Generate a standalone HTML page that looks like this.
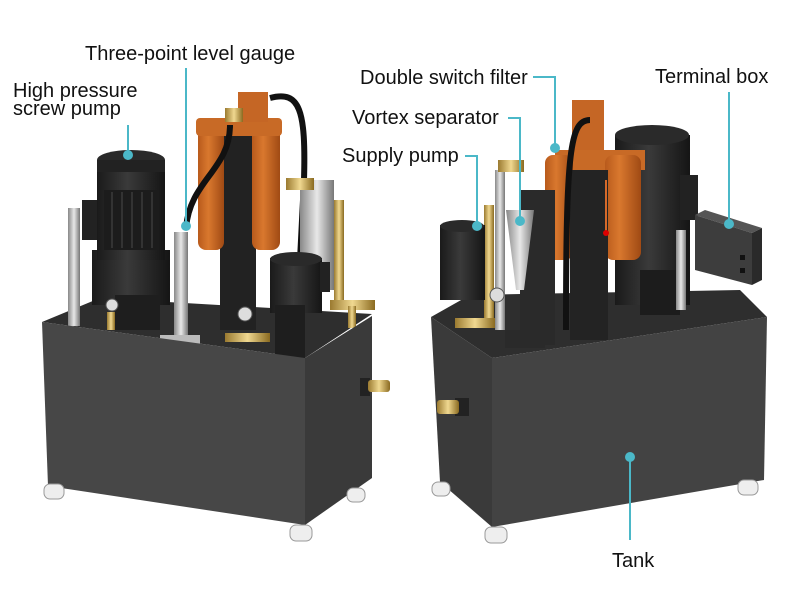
<!DOCTYPE html>
<html><head><meta charset="utf-8"><style>
html,body{margin:0;padding:0;background:#fff;}
svg{display:block;}
text{font-family:"Liberation Sans",sans-serif;font-size:20px;fill:#111;}
</style></head><body>
<svg width="800" height="600" viewBox="0 0 800 600" xmlns="http://www.w3.org/2000/svg">
<defs>
<linearGradient id="blk" x1="0" x2="1"><stop offset="0" stop-color="#1a1a1a"/><stop offset=".45" stop-color="#3a3a3a"/><stop offset="1" stop-color="#151515"/></linearGradient>
<linearGradient id="org" x1="0" x2="1"><stop offset="0" stop-color="#b85a1c"/><stop offset=".4" stop-color="#d9782e"/><stop offset="1" stop-color="#a04a14"/></linearGradient>
<linearGradient id="slv" x1="0" x2="1"><stop offset="0" stop-color="#888"/><stop offset=".5" stop-color="#e8e8e8"/><stop offset="1" stop-color="#777"/></linearGradient>
<linearGradient id="brs" x1="0" x2="1"><stop offset="0" stop-color="#9a7a30"/><stop offset=".5" stop-color="#f0d890"/><stop offset="1" stop-color="#8a6a20"/></linearGradient>
</defs>

<!-- LEFT MACHINE -->
<polygon points="42,322 100,298 372,314 305,358" fill="#2e2e2e"/>
<rect x="68" y="208" width="12" height="118" fill="url(#slv)"/>
<rect x="82" y="200" width="18" height="40" fill="#222"/>
<rect x="92" y="250" width="78" height="55" fill="url(#blk)"/>
<rect x="97" y="165" width="68" height="95" fill="url(#blk)"/>
<rect x="104" y="190" width="54" height="60" fill="#1c1c1c"/>
<g stroke="#333" stroke-width="2"><line x1="112" y1="192" x2="112" y2="248"/><line x1="122" y1="192" x2="122" y2="248"/><line x1="132" y1="192" x2="132" y2="248"/><line x1="142" y1="192" x2="142" y2="248"/><line x1="152" y1="192" x2="152" y2="248"/></g>
<ellipse cx="131" cy="160" rx="34" ry="10" fill="#2a2a2a"/>
<rect x="97" y="160" width="68" height="12" fill="#222"/>
<rect x="115" y="295" width="45" height="35" fill="#1e1e1e"/>
<circle cx="112" cy="305" r="6" fill="#ddd" stroke="#555"/>
<rect x="107" y="312" width="8" height="18" fill="url(#brs)"/>
<rect x="174" y="232" width="14" height="115" fill="url(#slv)"/>
<rect x="160" y="335" width="40" height="12" fill="#bbb"/>
<rect x="220" y="130" width="36" height="200" fill="#222"/>
<rect x="198" y="125" width="26" height="125" rx="8" fill="url(#org)"/>
<rect x="252" y="125" width="28" height="125" rx="8" fill="url(#org)"/>
<rect x="196" y="118" width="86" height="18" rx="4" fill="#c86a26"/>
<rect x="238" y="92" width="30" height="30" fill="#c56625"/>
<rect x="225" y="108" width="18" height="14" fill="url(#brs)"/>
<path d="M270 98 C300 90 306 110 304 180 L300 260" stroke="#111" stroke-width="6" fill="none"/>
<path d="M230 125 C230 170 190 180 186 228" stroke="#111" stroke-width="6" fill="none"/>
<rect x="300" y="180" width="34" height="110" fill="url(#slv)"/>
<rect x="286" y="178" width="28" height="12" fill="url(#brs)"/>
<rect x="270" y="258" width="52" height="55" fill="url(#blk)"/>
<ellipse cx="296" cy="259" rx="26" ry="7" fill="#2a2a2a"/>
<rect x="275" y="305" width="30" height="58" fill="#1e1e1e"/>
<rect x="320" y="262" width="10" height="30" fill="#222"/>
<rect x="334" y="200" width="10" height="110" fill="url(#brs)"/>
<rect x="330" y="300" width="45" height="10" fill="url(#brs)"/>
<rect x="348" y="306" width="8" height="22" fill="url(#brs)"/>
<circle cx="245" cy="314" r="7" fill="#ddd" stroke="#555"/>
<rect x="225" y="333" width="45" height="9" fill="url(#brs)"/>
<polygon points="42,322 305,358 305,525 48,486" fill="#474747"/>
<polygon points="305,358 372,316 372,478 305,525" fill="#3a3a3a"/>
<rect x="360" y="378" width="10" height="18" fill="#222"/>
<rect x="368" y="380" width="22" height="12" rx="3" fill="url(#brs)"/>
<g fill="#eee" stroke="#999"><rect x="44" y="484" width="20" height="15" rx="6"/><rect x="290" y="525" width="22" height="16" rx="6"/><rect x="347" y="488" width="18" height="14" rx="6"/></g>

<!-- RIGHT MACHINE -->
<polygon points="431,317 470,295 740,290 767,317 492,358" fill="#2e2e2e"/>
<rect x="615" y="135" width="75" height="170" fill="url(#blk)"/>
<ellipse cx="652" cy="135" rx="37" ry="10" fill="#2a2a2a"/>
<rect x="680" y="175" width="18" height="45" fill="#222"/>
<rect x="640" y="270" width="40" height="45" fill="#1c1c1c"/>
<rect x="676" y="230" width="10" height="80" fill="url(#slv)"/>
<rect x="555" y="150" width="90" height="20" fill="#c86a26"/>
<rect x="545" y="155" width="28" height="105" rx="8" fill="url(#org)"/>
<rect x="605" y="155" width="36" height="105" rx="8" fill="url(#org)"/>
<rect x="570" y="170" width="38" height="170" fill="#232323"/>
<rect x="572" y="100" width="32" height="50" fill="#c56625"/>
<path d="M590 120 C570 120 566 150 566 330" stroke="#111" stroke-width="6" fill="none"/>
<line x1="606" y1="180" x2="606" y2="232" stroke="#d66a2a" stroke-width="2"/>
<circle cx="606" cy="233" r="3" fill="#d00"/>
<rect x="520" y="190" width="35" height="155" fill="#2a2a2a"/>
<polygon points="506,210 534,210 524,290 516,290" fill="url(#slv)"/>
<rect x="495" y="170" width="10" height="160" fill="url(#slv)"/>
<rect x="498" y="160" width="26" height="12" fill="url(#brs)"/>
<rect x="484" y="205" width="10" height="120" fill="url(#brs)"/>
<rect x="455" y="318" width="40" height="10" fill="url(#brs)"/>
<circle cx="497" cy="295" r="7" fill="#ddd" stroke="#555"/>
<rect x="440" y="225" width="45" height="75" fill="url(#blk)"/>
<ellipse cx="462" cy="226" rx="22" ry="6" fill="#2a2a2a"/>
<rect x="505" y="330" width="40" height="18" fill="#2a2a2a"/>
<polygon points="695,215 705,210 762,228 752,233" fill="#555"/>
<polygon points="695,215 752,233 752,285 695,270" fill="#3d3d3d"/>
<polygon points="752,233 762,228 762,280 752,285" fill="#2a2a2a"/>
<rect x="740" y="255" width="5" height="5" fill="#111"/><rect x="740" y="268" width="5" height="5" fill="#111"/>
<polygon points="431,317 492,358 492,527 440,482" fill="#3a3a3a"/>
<polygon points="492,358 767,317 764,480 492,527" fill="#434343"/>
<rect x="455" y="398" width="14" height="18" fill="#222"/>
<rect x="437" y="400" width="22" height="14" rx="3" fill="url(#brs)"/>
<g fill="#eee" stroke="#999"><rect x="432" y="482" width="18" height="14" rx="6"/><rect x="485" y="527" width="22" height="16" rx="6"/><rect x="738" y="480" width="20" height="15" rx="6"/></g>

<!-- LABELS -->
<g stroke="#4bb8c8" stroke-width="2" fill="none">
<line x1="186" y1="68" x2="186" y2="226"/>
<line x1="128" y1="125" x2="128" y2="155"/>
<polyline points="533,77 555,77 555,148"/>
<polyline points="508,118 520,118 520,221"/>
<polyline points="465,156 477,156 477,226"/>
<line x1="729" y1="92" x2="729" y2="224"/>
<line x1="630" y1="457" x2="630" y2="540"/>
</g>
<g fill="#4bb8c8">
<circle cx="186" cy="226" r="5"/><circle cx="128" cy="155" r="5"/><circle cx="555" cy="148" r="5"/>
<circle cx="520" cy="221" r="5"/><circle cx="477" cy="226" r="5"/><circle cx="729" cy="224" r="5"/><circle cx="630" cy="457" r="5"/>
</g>
<text x="85" y="60">Three-point level gauge</text>
<text x="13" y="97">High pressure</text>
<text x="13" y="115">screw pump</text>
<text x="360" y="84">Double switch filter</text>
<text x="352" y="124">Vortex separator</text>
<text x="342" y="162">Supply pump</text>
<text x="655" y="83">Terminal box</text>
<text x="612" y="567">Tank</text>
</svg>
</body></html>
